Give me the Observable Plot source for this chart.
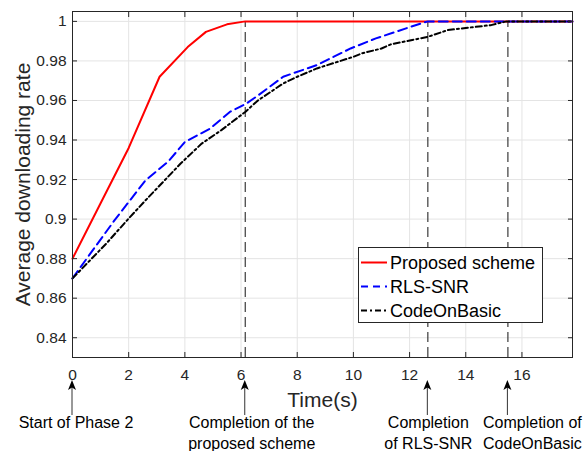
<!DOCTYPE html>
<html>
<head>
<meta charset="utf-8">
<script src="https://cdn.jsdelivr.net/npm/d3@7"></script>
<script src="https://cdn.jsdelivr.net/npm/@observablehq/plot@0.6"></script>
<style>
  html, body { margin: 0; padding: 0; background: #fff; }
  #chart svg { display: block; }
</style>
</head>
<body>
<div id="chart"></div>
<script>
// ---- data ----
const proposedT = [0, 1, 2, 3.1, 4.1, 4.75, 5.5, 6.15, 17.8];
const proposedY = [0.88, 0.908, 0.936, 0.972, 0.987, 0.9947, 0.9985, 1, 1];

const rlsT = [0, 0.3, 1.5, 2.6, 3.4, 4.0, 4.9, 5.6, 6.2, 6.6, 7.5, 8.7, 9.9, 10.8, 12.05, 12.65, 17.8];
const rlsY = [0.87, 0.876, 0.8995, 0.9196, 0.929, 0.939, 0.9458, 0.9542, 0.9585, 0.9625, 0.972, 0.9779, 0.9863, 0.9914, 0.9973, 1, 1];

const codeT = [0, 1.2, 2.0, 2.6, 3.85, 4.6, 5.3, 6.15, 6.6, 7.5, 8.0, 8.7, 10.0, 10.3, 11.0, 11.34, 12.65, 13.36, 14.07, 14.9, 15.45, 17.8];
const codeY = [0.87, 0.8876, 0.9003, 0.9095, 0.9281, 0.9382, 0.945, 0.9542, 0.96, 0.9686, 0.972, 0.9762, 0.9821, 0.9838, 0.9863, 0.9884, 0.9922, 0.9956, 0.9968, 0.9981, 1, 1];

const seriesNames = ["Proposed scheme", "RLS-SNR", "CodeOnBasic"];
const xTicks = [0, 2, 4, 6, 8, 10, 12, 14, 16];
const yTicks = [0.84, 0.86, 0.88, 0.9, 0.92, 0.94, 0.96, 0.98, 1];
const completionTimes = [6.15, 12.65, 15.5];
const eventTimes = [0, 6.15, 12.65, 15.5];
const eventLabels = [
  ["Start of Phase 2"],
  ["Completion of the", "proposed scheme"],
  ["Completion", "of RLS-SNR"],
  ["Completion of", "CodeOnBasic"]
];
const xLabel = "Time(s)";
const yLabel = "Average downloading rate";

// ---- styles ----
const FONT = "'Liberation Sans', Arial, Helvetica, sans-serif";
const INK = "#262626";
const seriesStyle = [
  {stroke: "#ff0000", dash: null},
  {stroke: "#0000ff", dash: "9,5"},
  {stroke: "#000000", dash: "6,3,2,3"}
];
const labelOffsets = [4, 7, 1, 25];

const rows = (T, Y) => T.map((t, i) => ({t, v: Y[i]}));
const seriesData = [rows(proposedT, proposedY), rows(rlsT, rlsY), rows(codeT, codeY)];

const plot = Plot.plot({
  width: 586,
  height: 451,
  marginLeft: 72,
  marginRight: 14,
  marginTop: 11,
  marginBottom: 94,
  style: {fontFamily: FONT, fontSize: "15.5px", color: INK, background: "#fff", overflow: "visible"},
  x: {domain: [0, 17.8], label: null},
  y: {domain: [0.83, 1.005], label: null},
  marks: [
    Plot.gridX(xTicks, {stroke: "#e4e4e4", strokeOpacity: 1, strokeWidth: 1}),
    Plot.gridY(yTicks, {stroke: "#e4e4e4", strokeOpacity: 1, strokeWidth: 1}),
    Plot.ruleX(completionTimes, {y1: 0.83, y2: 1, stroke: "#3a3a3a", strokeWidth: 1.2, strokeDasharray: "10,5"}),
    ...seriesData.map((d, i) => Plot.line(d, {
      x: "t", y: "v",
      stroke: seriesStyle[i].stroke,
      strokeWidth: 2,
      strokeDasharray: seriesStyle[i].dash,
      strokeLinejoin: "round"
    })),
    Plot.frame({stroke: INK, strokeWidth: 1}),
    Plot.axisX(xTicks, {anchor: "bottom", tickSize: 0, tickPadding: 11, tickFormat: d => String(d), label: null, fontSize: 15.5}),
    Plot.axisX(xTicks, {anchor: "bottom", tickSize: -5, tickFormat: () => "", label: null}),
    Plot.axisX(xTicks, {anchor: "top", tickSize: -5, tickFormat: () => "", label: null}),
    Plot.axisY(yTicks, {anchor: "left", tickSize: 0, tickPadding: 6, tickFormat: d => String(d), label: null, fontSize: 15.5}),
    Plot.axisY(yTicks, {anchor: "left", tickSize: -5, tickFormat: () => "", label: null}),
    Plot.axisY(yTicks, {anchor: "right", tickSize: -5, tickFormat: () => "", label: null}),
    Plot.text([xLabel], {frameAnchor: "bottom", textAnchor: "middle", lineAnchor: "middle", dy: 43, fontSize: 21, fill: INK}),
    Plot.text([yLabel], {frameAnchor: "left", textAnchor: "middle", lineAnchor: "middle", rotate: -90, dx: -49, fontSize: 21, fill: INK})
  ]
});

document.getElementById("chart").appendChild(plot);

// ---- annotations and legend (positioned through the plot's x scale) ----
const xs = plot.scale("x");
const svg = d3.select(plot);
const ann = svg.append("g").attr("font-family", FONT).attr("font-size", 16).attr("fill", "#000");
eventTimes.forEach((t, i) => {
  const px = xs.apply(t);
  ann.append("line").attr("x1", px).attr("x2", px).attr("y1", 386).attr("y2", 415)
    .attr("stroke", "#333").attr("stroke-width", 1);
  ann.append("path")
    .attr("d", `M${px},380 L${px + 4},390 L${px},387.5 L${px - 4},390 Z`)
    .attr("fill", "#000");
  eventLabels[i].forEach((line, j) => {
    ann.append("text").attr("x", px + labelOffsets[i]).attr("y", 428 + j * 20.5)
      .attr("text-anchor", "middle").text(line);
  });
});

const lg = svg.append("g").attr("font-family", FONT).attr("font-size", 18).attr("fill", "#000");
lg.append("rect").attr("x", 358.5).attr("y", 247.5).attr("width", 184).attr("height", 75)
  .attr("fill", "#fff").attr("stroke", INK).attr("stroke-width", 1);
seriesNames.forEach((name, i) => {
  const cy = 262.5 + i * 24;
  lg.append("line").attr("x1", 361).attr("x2", 387).attr("y1", cy).attr("y2", cy)
    .attr("stroke", seriesStyle[i].stroke).attr("stroke-width", 2)
    .attr("stroke-dasharray", i === 1 ? "7,5" : seriesStyle[i].dash);
  lg.append("text").attr("x", 390).attr("y", cy + 6.5).attr("text-anchor", "start").text(name);
});
</script>
</body>
</html>
